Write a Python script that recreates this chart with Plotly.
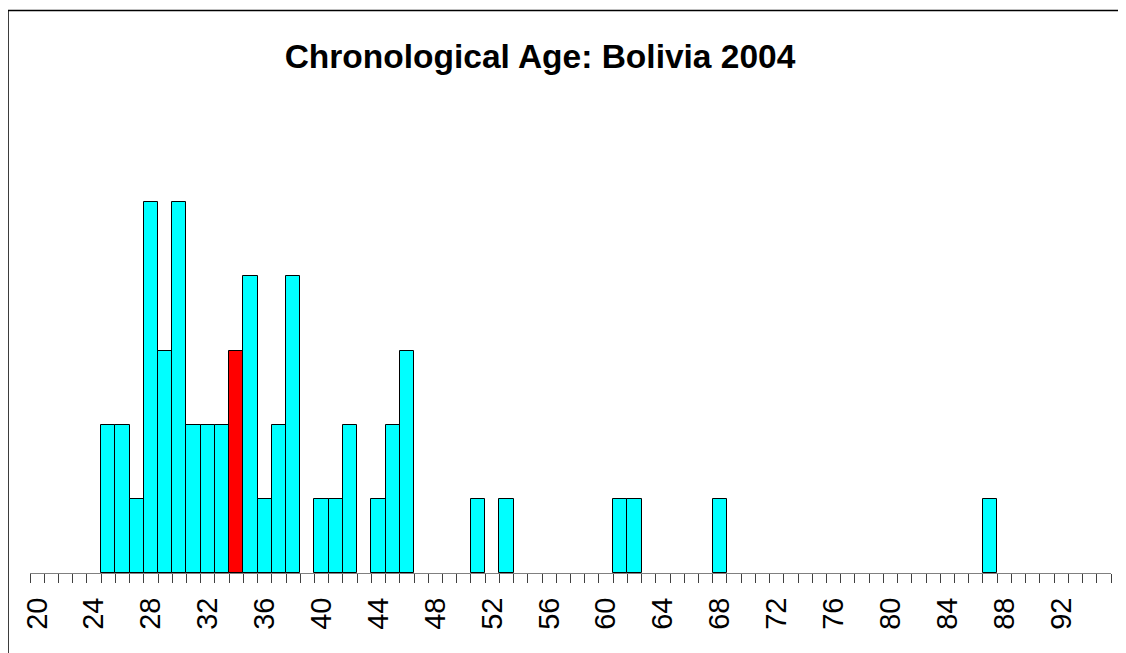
import plotly.graph_objects as go

# age bins (one year each) and how many people fall in each
ages = [25, 26, 27, 28, 29, 30, 31, 32, 33, 34, 35, 36, 37, 38,
        40, 41, 42, 44, 45, 46, 51, 53, 61, 62, 68, 87]
counts = [2, 2, 1, 5, 3, 5, 2, 2, 2, 3, 4, 1, 2, 4,
          1, 1, 2, 1, 2, 3, 1, 1, 1, 1, 1, 1]
highlight_age = 34

tick_labels = list(range(20, 96, 4))
age_min, age_max = 20, 95

# the page body has an 8px margin, so size the figure to the visible area
OFF = 8
W, H = 1126 - OFF, 653 - OFF
ml, mr, mt, mb = 30 - OFF, 14.5, 127.5 - OFF, 80.3

colors = ['#FF0000' if a == highlight_age else '#00FFFF' for a in ages]

fig = go.Figure()
fig.add_trace(go.Bar(x=ages, y=counts, width=1,
                     marker=dict(color=colors, line=dict(color='black', width=1)),
                     showlegend=False, hoverinfo='x+y'))

fig.update_xaxes(range=[age_min - 0.5, age_max + 0.5],
                 tickmode='array', tickvals=tick_labels,
                 ticktext=[str(t) for t in tick_labels],
                 tickangle=-90, ticks='', ticklabelstandoff=12,
                 tickfont=dict(family='Liberation Sans, Arial', size=29, color='black'),
                 showline=True, linecolor='#808080', linewidth=1,
                 showgrid=False, zeroline=False,
                 minor=dict(tickmode='array',
                            tickvals=[a - 0.5 for a in range(age_min, age_max + 2)],
                            ticks='outside', ticklen=9, tickcolor='#404040',
                            tickwidth=1, showgrid=False))
fig.update_yaxes(range=[0, 6], visible=False)

# frame around the whole chart (pixel positions inside the figure)
pw = W - ml - mr
ph = H - mt - mb
def px_x(p):
    return (p - ml) / pw
def px_y(p):
    return (H - mb - p) / ph

fig.add_shape(type='rect', xref='paper', yref='paper',
              x0=px_x(0), x1=px_x(1117.5),
              y0=px_y(H + 10), y1=px_y(2),
              line=dict(color='black', width=1.5), fillcolor='rgba(0,0,0,0)')

fig.update_layout(
    width=W, height=H,
    margin=dict(l=ml, r=mr, t=mt, b=mb),
    paper_bgcolor='white', plot_bgcolor='white',
    bargap=0,
    title=dict(text='<b>Chronological Age: Bolivia 2004</b>',
               x=(540 - OFF) / W, xanchor='center',
               y=1 - (56.7 - OFF) / H, yanchor='middle',
               font=dict(family='Liberation Sans, Arial', size=33.5, color='black')),
)

fig.write_html("out.html")
